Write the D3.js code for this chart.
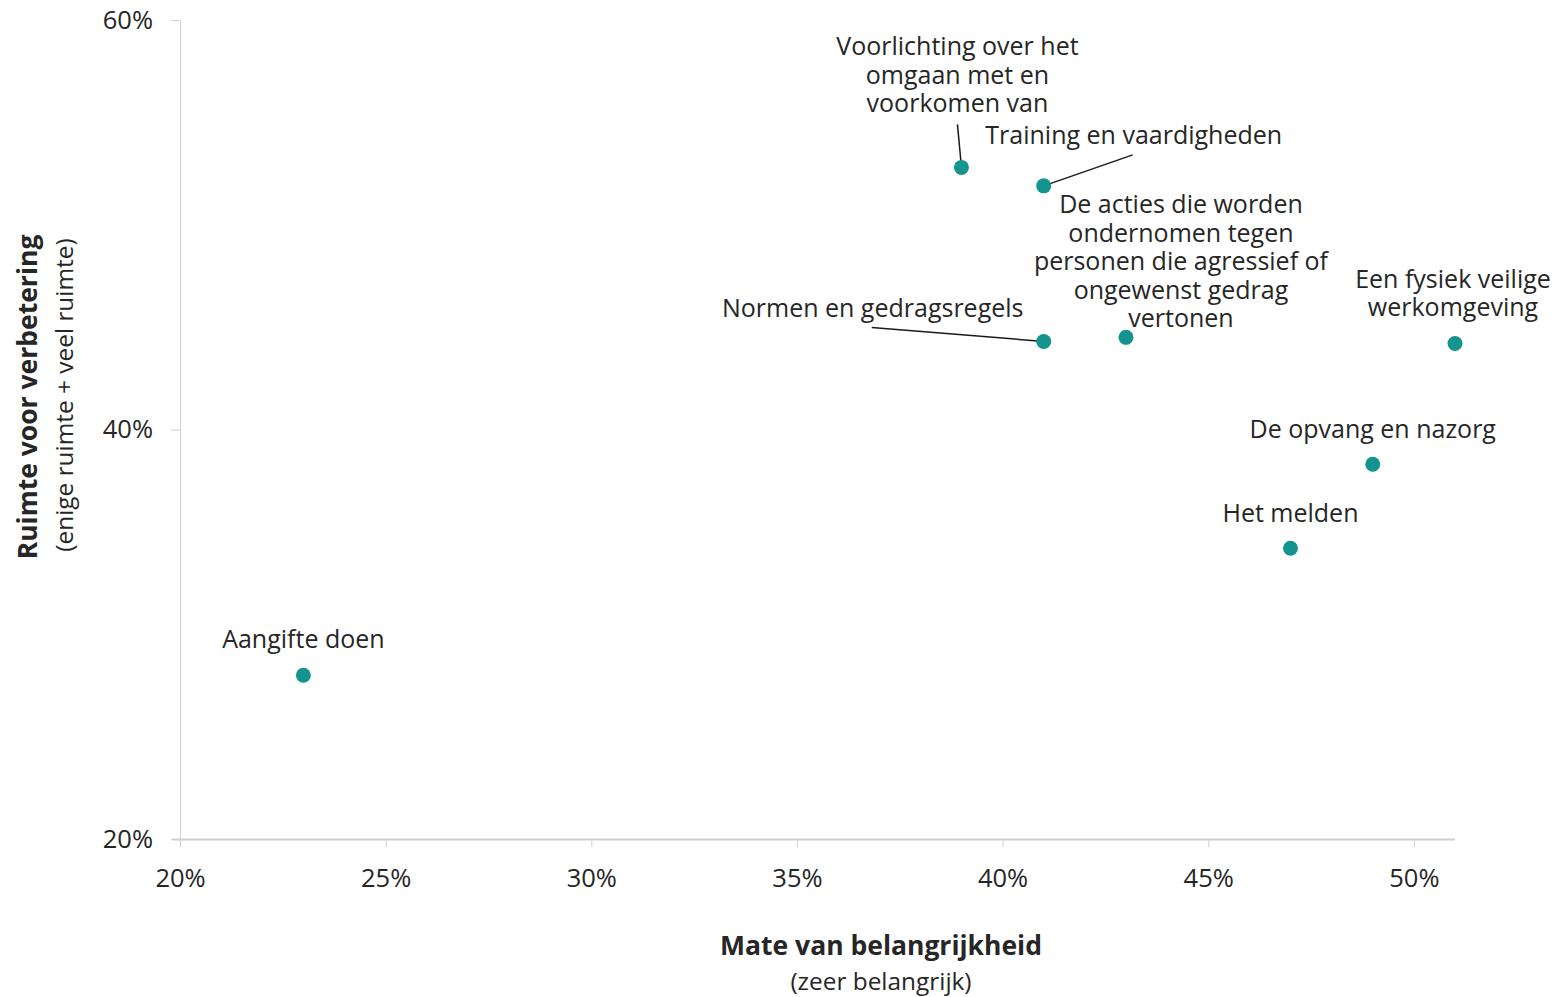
<!DOCTYPE html>
<html lang="nl">
<head>
  <meta charset="UTF-8">
  <title>Ruimte voor verbetering vs. belangrijkheid</title>
  <script src="https://d3js.org/d3.v7.min.js"></script>
  <style>
    body { margin: 0; background: #fff; }
    svg text { font-family: "Open Sans", sans-serif; fill: #262626; }
    .axis path, .axis line { stroke: #d0d0d0; }
    .leader { stroke: #1a1a1a; stroke-width: 1.5px; fill: none; }
  </style>
</head>
<body>
  <svg width="1560" height="997"></svg>

  <script>
    // data
    const themes = [
      "Aangifte doen",
      "Voorlichting over het omgaan met en voorkomen van",
      "Training en vaardigheden",
      "Normen en gedragsregels",
      "De acties die worden ondernomen tegen personen die agressief of ongewenst gedrag vertonen",
      "Een fysiek veilige werkomgeving",
      "De opvang en nazorg",
      "Het melden"
    ];
    const importance = [23, 39, 41, 41, 43, 51, 49, 47];       // % zeer belangrijk
    const improvement = [28.0, 52.8, 51.9, 44.3, 44.5, 44.2, 38.3, 34.2]; // % enige + veel ruimte
    const xTicks = [20, 25, 30, 35, 40, 45, 50];
    const yTicks = [20, 40, 60];

    // label layout: wrapped lines, offset of first baseline from the dot, optional leader start
    const labelLayout = {
      "Aangifte doen": { lines: ["Aangifte doen"], dx: 0, dy: -27 },
      "Voorlichting over het omgaan met en voorkomen van": {
        lines: ["Voorlichting over het", "omgaan met en", "voorkomen van"], dx: -4, dy: -112, leader: [-4, -43] },
      "Training en vaardigheden": { lines: ["Training en vaardigheden"], dx: 90, dy: -42, leader: [89, -31] },
      "Normen en gedragsregels": { lines: ["Normen en gedragsregels"], dx: -171, dy: -24, leader: [-172, -14] },
      "De acties die worden ondernomen tegen personen die agressief of ongewenst gedrag vertonen": {
        lines: ["De acties die worden", "ondernomen tegen", "personen die agressief of", "ongewenst gedrag", "vertonen"], dx: 55, dy: -124 },
      "Een fysiek veilige werkomgeving": { lines: ["Een fysiek veilige", "werkomgeving"], dx: -2, dy: -56 },
      "De opvang en nazorg": { lines: ["De opvang en nazorg"], dx: 0, dy: -26 },
      "Het melden": { lines: ["Het melden"], dx: 0, dy: -26 }
    };

    const points = themes.map((t, i) => ({ name: t, x: importance[i], y: improvement[i] }));

    const svg = d3.select("svg");
    const x = d3.scaleLinear().domain([20, 51]).range([180, 1455]);
    const y = d3.scaleLinear().domain([20, 60]).range([839, 20]);

    // x axis
    const xAxis = svg.append("g")
      .attr("class", "axis")
      .attr("transform", "translate(0,839)")
      .call(d3.axisBottom(x).tickValues(xTicks).tickSize(8).tickSizeOuter(0).tickPadding(22).tickFormat(d => d + "%"));
    xAxis.select(".domain").attr("d", `M172,0.5H${x(51)}`).attr("stroke-width", 2);
    xAxis.selectAll(".tick text").attr("font-size", 25.5).attr("fill", "#262626");

    // y axis
    const yAxis = svg.append("g")
      .attr("class", "axis")
      .attr("transform", "translate(180,0)")
      .call(d3.axisLeft(y).tickValues(yTicks).tickSize(9).tickSizeOuter(0).tickPadding(18).tickFormat(d => d + "%"));
    yAxis.selectAll(".tick text").attr("font-size", 25.5).attr("fill", "#262626");
    svg.selectAll(".tick text").style("font-family", "'Open Sans', sans-serif");

    // leader lines
    svg.append("g").selectAll("line")
      .data(points.filter(d => labelLayout[d.name].leader))
      .join("line")
      .attr("class", "leader")
      .attr("x1", d => x(d.x) + labelLayout[d.name].leader[0])
      .attr("y1", d => y(d.y) + labelLayout[d.name].leader[1])
      .attr("x2", d => x(d.x))
      .attr("y2", d => y(d.y));

    // dots
    svg.append("g").selectAll("circle")
      .data(points)
      .join("circle")
      .attr("cx", d => x(d.x))
      .attr("cy", d => y(d.y))
      .attr("r", 7.5)
      .attr("fill", "#13948e");

    // labels
    const labels = svg.append("g").selectAll("text")
      .data(points)
      .join("text")
      .attr("text-anchor", "middle")
      .attr("font-size", 25);
    labels.each(function(d) {
      const lay = labelLayout[d.name];
      d3.select(this).selectAll("tspan")
        .data(lay.lines)
        .join("tspan")
        .attr("x", x(d.x) + lay.dx)
        .attr("y", (l, i) => y(d.y) + lay.dy + i * 28.5)
        .text(l => l);
    });

    // axis titles
    svg.append("text").attr("x", 881).attr("y", 955).attr("text-anchor", "middle")
      .attr("font-size", 26.5).attr("font-weight", "bold").text("Mate van belangrijkheid");
    svg.append("text").attr("x", 881).attr("y", 990).attr("text-anchor", "middle")
      .attr("font-size", 24.4).text("(zeer belangrijk)");

    svg.append("text").attr("transform", "translate(37,397) rotate(-90)").attr("text-anchor", "middle")
      .attr("font-size", 26.5).attr("font-weight", "bold").text("Ruimte voor verbetering");
    svg.append("text").attr("transform", "translate(73,395) rotate(-90)").attr("text-anchor", "middle")
      .attr("font-size", 24.4).text("(enige ruimte + veel ruimte)");
  </script>
</body>
</html>
